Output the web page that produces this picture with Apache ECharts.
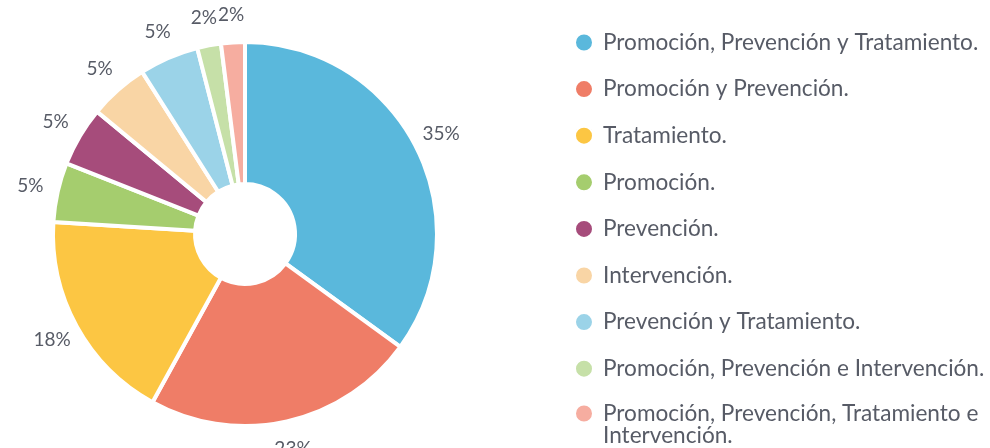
<!DOCTYPE html>
<html>
<head>
<meta charset="utf-8">
<script src="https://cdn.jsdelivr.net/npm/echarts@6/dist/echarts.min.js"></script>
<style>
    html, body { margin: 0; padding: 0; background: #fff; }
    #main { width: 990px; height: 448px; }
</style>
</head>
<body>
<div id="main"></div>
<script>
var categories = [
    'Promoción, Prevención y Tratamiento.',
    'Promoción y Prevención.',
    'Tratamiento.',
    'Promoción.',
    'Prevención.',
    'Intervención.',
    'Prevención y Tratamiento.',
    'Promoción, Prevención e Intervención.',
    'Promoción, Prevención, Tratamiento e Intervención.'
];
var values = [35, 23, 18, 5, 5, 5, 5, 2, 2];
var colors = ['#5ab8dc', '#ef7d67', '#fcc643', '#a5cd6e', '#a64c7b', '#f9d5a5', '#9bd3e8', '#c6e0a8', '#f6ada0'];

var textColor = '#575b66';
var fontName = 'Lato';

var myChart = echarts.init(document.getElementById('main'));

var pieData = categories.map(function (name, i) {
    return {value: values[i], name: name};
});

var lastName = categories[categories.length - 1];

var legendBase = {
    orient: 'vertical',
    left: 574,
    padding: 0,
    icon: 'circle',
    itemWidth: 28,
    itemHeight: 18,
    itemGap: 23.6,
    selectedMode: false,
    textStyle: {
        color: textColor,
        fontFamily: fontName,
        fontSize: 22.6,
        lineHeight: 22
    }
};

// the long last entry goes in its own legend so the dot sits on its first line
var legendMain = echarts.util.merge({
    top: 31,
    data: categories.slice(0, categories.length - 1)
}, legendBase);

var legendLast = echarts.util.merge({
    top: 380,
    formatter: function (name) {
        var k = name.lastIndexOf(' ');
        return '\n' + name.slice(0, k) + '\n' + name.slice(k + 1);
    },
    data: [lastName]
}, legendBase);

var option = {
    animation: false,
    color: colors,
    legend: [legendMain, legendLast],
    series: [
        {
            name: 'slices',
            type: 'pie',
            center: [245, 234],
            radius: [50, 192],
            startAngle: 90,
            silent: true,
            itemStyle: {
                borderColor: '#fff',
                borderWidth: 4
            },
            label: {show: false},
            labelLine: {show: false},
            data: pieData
        },
        {
            // transparent ring only used to place the percent labels
            name: 'labels',
            type: 'pie',
            center: [245, 234],
            radius: [192, 242],
            startAngle: 90,
            silent: true,
            itemStyle: {color: 'transparent'},
            label: {
                show: true,
                position: 'inside',
                formatter: '{c}%',
                color: textColor,
                fontFamily: fontName,
                fontSize: 19
            },
            labelLine: {show: false},
            data: pieData
        }
    ]
};
myChart.setOption(option);
</script>
</body>
</html>
